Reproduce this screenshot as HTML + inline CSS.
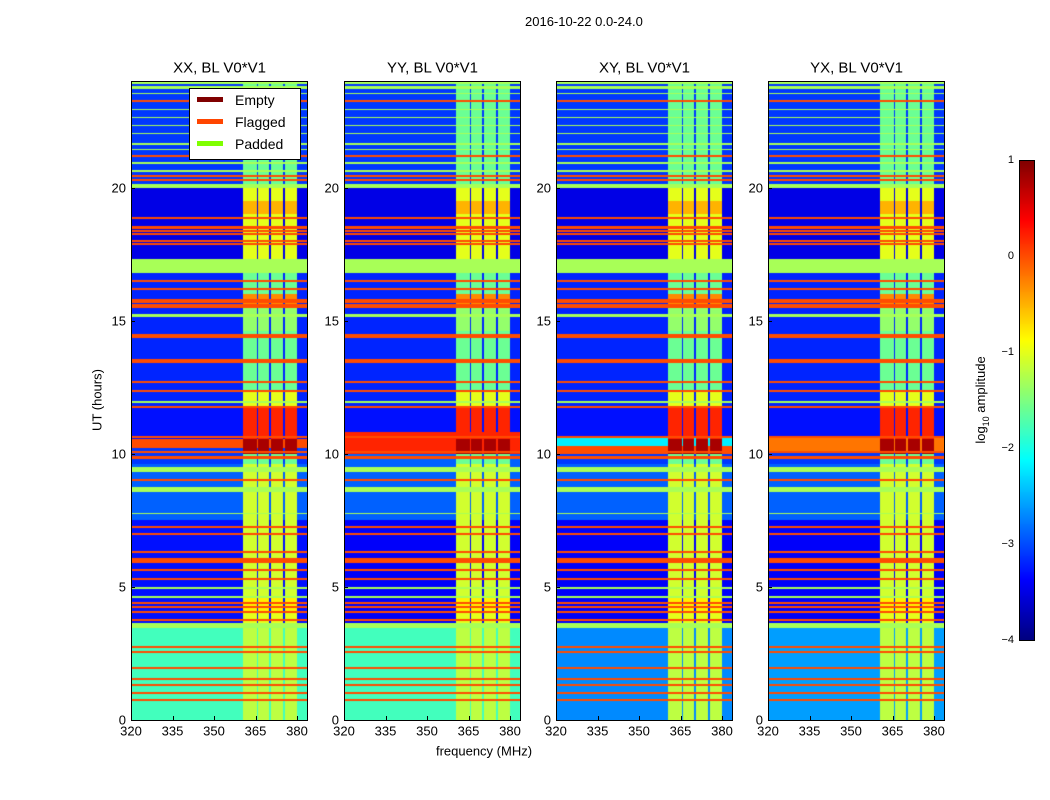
<!DOCTYPE html>
<html><head><meta charset="utf-8"><style>
body{margin:0;background:#fff;font-family:"Liberation Sans",sans-serif;}
#root{position:relative;width:1050px;height:800px;overflow:hidden;background:#fff}
canvas{position:absolute;}
.t{position:absolute;font-size:13px;color:#000;white-space:nowrap}
.frame{position:absolute;border:1px solid #000;box-sizing:border-box}
</style></head><body>
<div id="root">
<div class="t" style="left:525px;top:14px;font-size:13px">2016-10-22 0.0-24.0</div>
<div class="t" style="left:97px;top:400px;transform:translate(-50%,-50%) rotate(-90deg)">UT (hours)</div>
<div class="t" style="left:484px;top:751px;transform:translate(-50%,-50%)">frequency (MHz)</div>
<div class="t" style="left:982px;top:400px;transform:translate(-50%,-50%) rotate(-90deg)">log<sub style="font-size:9px">10</sub> amplitude</div>
</div>
<script>
const panelTitles=["XX, BL V0*V1","YY, BL V0*V1","XY, BL V0*V1","YX, BL V0*V1"];
const panelLefts=[131,344,556,768];
const xTicks=[320,335,350,365,380];
const yTicks=[0,5,10,15,20];
const cbTicks=[1,0,-1,-2,-3,-4];
// base log10 amplitude by time segment [t0,t1,value], per panel
const baseXX=[[0,3.45,-1.8],[3.45,7.5,-3.3],[7.5,9.6,-2.9],[9.6,10.2,-3.1],[10.2,10.55,0.0],[10.55,11.8,-3.3],[11.8,16.8,-3.2],[16.8,20.1,-3.5],[20.1,24,-3.1]];
const baseYY=[[0,3.45,-1.8],[3.45,7.5,-3.4],[7.5,9.6,-2.9],[9.6,10.0,-2.9],[10.0,10.8,0.2],[10.8,11.8,-3.3],[11.8,16.8,-3.2],[16.8,20.1,-3.5],[20.1,24,-3.1]];
const baseXY=[[0,3.45,-2.7],[3.45,7.5,-3.4],[7.5,9.6,-2.9],[9.6,10.0,-3.1],[10.0,10.3,0.0],[10.3,10.6,-2.2],[10.6,11.8,-3.3],[11.8,16.8,-3.2],[16.8,20.1,-3.5],[20.1,24,-3.1]];
const baseYX=[[0,3.45,-2.6],[3.45,7.5,-3.4],[7.5,9.6,-2.9],[9.6,10.1,-3.1],[10.1,10.6,-0.2],[10.6,11.8,-3.3],[11.8,16.8,-3.2],[16.8,20.1,-3.5],[20.1,24,-3.1]];
const baseSegments=[baseXX,baseYY,baseXY,baseYX];
// channel bands (MHz) with elevated amplitude
const bandCols=[[360.5,365.4],[365.8,370.0],[370.5,375.0],[375.6,380]];
// band values by time [t0,t1,value]
const bandSegs=[[0,3.45,-1.2],[3.65,4.0,-1.0],[4.0,4.6,-0.8],[4.6,9.6,-1.1],[9.6,10.0,-1.6],[10.0,10.55,0.8],[10.55,11.8,0.2],[11.8,12.4,-1.0],[12.4,14.6,-1.6],[14.6,15.6,-1.4],[15.6,16.0,-0.3],[16.0,16.8,-1.6],[17.3,19.0,-1.0],[19.0,19.5,-0.5],[19.5,20.0,-1.0],[20.1,24,-1.6]];
const flaggedHours=[0.75,1.0,1.3,1.53,1.95,2.55,2.74,3.75,4.05,4.24,4.38,5.31,5.62,5.93,6.03,6.3,7.0,7.24,9.0,9.86,10.05,10.63,11.75,12.37,12.7,13.44,13.5,14.37,14.47,15.5,15.59,15.69,15.79,16.19,16.5,17.87,18.0,18.25,18.37,18.5,18.84,20.28,20.44,21.19,23.25];
const paddedRanges=[[3.45,3.64],[4.58,4.64],[4.93,4.99],[7.72,7.78],[8.55,8.74],[9.3,9.5],[11.9,12.0],[15.15,15.26],[16.8,17.3],[20.0,20.13],[20.6,20.66],[20.9,20.96],[21.4,21.46],[21.6,21.66],[22.0,22.06],[22.3,22.36],[22.6,22.66],[22.9,22.96],[23.5,23.56],[23.7,23.8],[23.9,24]];
const legendLabels=["Empty","Flagged","Padded"];
const legendColors=["#800000","#ff4500","#7fff00"];

const root=document.getElementById('root');
const PW=177,PH=639,TOP=81,F0=320,FPX=15/41.5,TMAX=24,VMIN=-4,VMAX=1;
const xs=f=>(f-F0)/FPX;
const ys=t=>PH*(1-t/TMAX);
function jet(v){let x=(v-VMIN)/(VMAX-VMIN);x=Math.max(0,Math.min(1,x));
 const c=u=>Math.max(0,Math.min(1,1.5-Math.abs(u)));
 return [c(4*x-3)*255,c(4*x-2)*255,c(4*x-1)*255];}
function segVal(segs,t){for(const s of segs){if(t>=s[0]&&t<s[1])return s[2];}return null;}
function value(p,f,t){
 let v=segVal(baseSegments[p],t);if(v===null)v=-3.3;
 for(const b of bandCols){if(f>=b[0]&&f<b[1]){const bv=segVal(bandSegs,t);if(bv!==null)v=bv;}}
 for(const r of paddedRanges){if(t>=r[0]&&t<r[1])v=-1.3;}
 for(const h of flaggedHours){if(Math.abs(t-h)<0.04)v=0.0;}
 return v;}
function mk(tag,cls,style,text){const e=document.createElement(tag);if(cls)e.className=cls;if(style)e.style.cssText=style;if(text!==undefined)e.textContent=text;root.appendChild(e);return e;}
panelTitles.forEach((title,p)=>{
 const L=panelLefts[p];
 const cv=document.createElement('canvas');cv.width=PW;cv.height=PH;cv.style.left=L+'px';cv.style.top=TOP+'px';
 
 
 root.appendChild(cv);
 const ctx=cv.getContext('2d');const img=ctx.createImageData(PW,PH);
 for(let y=0;y<PH;y++){const t=TMAX*(1-(y+0.5)/PH);
  for(let x=0;x<PW;x++){const f=F0+(x+0.5)*FPX;const c=jet(value(p,f,t));const i=(y*PW+x)*4;
   img.data[i]=c[0];img.data[i+1]=c[1];img.data[i+2]=c[2];img.data[i+3]=255;}}
 ctx.putImageData(img,0,0);
 const fr=mk('div','frame',`left:${L}px;top:${TOP}px;width:${PW}px;height:${PH+1}px`);
 
 
 const tt=mk('div','t',`left:${L+PW/2}px;top:68px;font-size:15px;transform:translate(-50%,-50%)`,title);
 
 
 xTicks.forEach(v=>{const x=L+xs(v);
  const tk=mk('div','',`position:absolute;left:${x}px;top:${TOP+PH-4}px;width:1px;height:4px;background:#000`);
  
  
  const lb=mk('div','t',`left:${x}px;top:731px;transform:translate(-50%,-50%)`,String(v));
  
  });
 yTicks.forEach(v=>{const y=TOP+ys(v);
  const tk=mk('div','',`position:absolute;left:${L}px;top:${y}px;width:4px;height:1px;background:#000`);
  
  
  const lb=mk('div','t',`left:${L-5}px;top:${y}px;transform:translate(-100%,-50%)`,String(v));
  
  });
});
// legend
const lg=mk('div','',`position:absolute;left:189px;top:88px;width:112px;height:72px;background:#fff;border:1px solid #000;box-sizing:border-box`);


legendLabels.forEach((lab,i)=>{
 const sw=mk('div','',`position:absolute;left:197px;top:${97+i*22}px;width:26px;height:5px;background:${legendColors[i]}`);
 
 
 const tx=mk('div','t',`left:235px;top:${100+i*22}px;font-size:14px;transform:translateY(-50%)`,lab);
 
 });
// colorbar
const CBL=1019,CBT=160,CBW=15,CBH=480;
const cb=document.createElement('canvas');cb.width=CBW;cb.height=CBH;cb.style.left=CBL+'px';cb.style.top=CBT+'px';


root.appendChild(cb);
const cctx=cb.getContext('2d');
for(let y=0;y<CBH;y++){const v=VMAX-(y+0.5)/CBH*(VMAX-VMIN);const c=jet(v);cctx.fillStyle=`rgb(${c[0]|0},${c[1]|0},${c[2]|0})`;cctx.fillRect(0,y,CBW,1);}
const cbf=mk('div','frame',`left:${CBL}px;top:${CBT}px;width:${CBW+1}px;height:${CBH+1}px`);


cbTicks.forEach(v=>{const y=CBT+(VMAX-v)/(VMAX-VMIN)*CBH;
 const lb=mk('div','t',`left:${CBL-5}px;top:${y}px;font-size:11px;transform:translate(-100%,-50%)`,v<0?'\u2212'+(-v):String(v));
 
 });
</script>
</body></html>
